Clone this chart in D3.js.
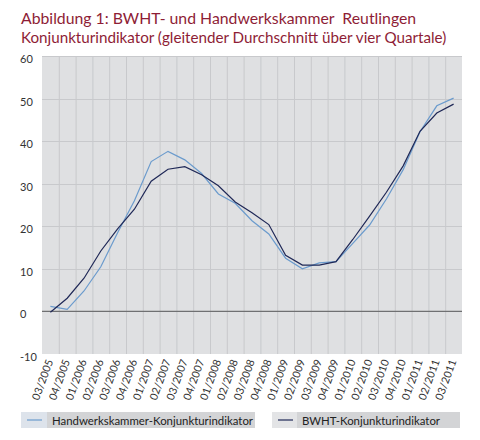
<!DOCTYPE html>
<html>
<head>
<meta charset="utf-8">
<script src="https://cdn.jsdelivr.net/npm/d3@7"></script>
<style>
  body { margin: 0; background: #fff; }
  svg { font-family: Lato, "Open Sans", sans-serif; }
</style>
</head>
<body>
<svg id="chart" width="480" height="440"></svg>
<script>
// Quarters on the x axis
var quarters = ["03/2005", "04/2005",
  "01/2006", "02/2006", "03/2006", "04/2006",
  "01/2007", "02/2007", "03/2007", "04/2007",
  "01/2008", "02/2008", "03/2008", "04/2008",
  "01/2009", "02/2009", "03/2009", "04/2009",
  "01/2010", "02/2010", "03/2010", "04/2010",
  "01/2011", "02/2011", "03/2011"];

// Handwerkskammer-Konjunkturindikator (light line)
var hwkValues = [1.2, 0.5, 4.8, 10.5, 18.5, 26.0, 35.2, 37.6, 35.6, 32.4, 27.6, 25.4,
  21.3, 18.2, 12.5, 10.0, 11.4, 11.7, 16.0, 20.3, 26.4, 33.3, 42.2, 48.3, 50.1];

// BWHT-Konjunkturindikator (dark line)
var bwhtValues = [-0.2, 3.1, 7.8, 14.2, 19.4, 24.0, 30.6, 33.4, 34.0, 32.1, 29.5, 25.7,
  23.2, 20.4, 13.2, 10.9, 10.9, 11.7, 16.9, 22.4, 28.0, 34.2, 42.3, 46.6, 48.7];

var yTicks = [-10, 0, 10, 20, 30, 40, 50, 60];
var seriesNames = ["Handwerkskammer-Konjunkturindikator", "BWHT-Konjunkturindikator"];
var titleLines = ["Abbildung 1: BWHT- und Handwerkskammer\u00a0 Reutlingen",
  "Konjunkturindikator (gleitender Durchschnitt über vier Quartale)"];

var svg = d3.select("#chart");
var plot = { left: 42, right: 462, top: 56, bottom: 354 };

var xScale = d3.scaleBand().domain(quarters).range([plot.left, plot.right]).padding(0);
var yScale = d3.scaleLinear().domain([-10, 60]).range([plot.bottom, plot.top]);

// title
svg.append("g").selectAll("text").data(titleLines).enter()
  .append("text")
  .attr("x", 21)
  .attr("y", (d, i) => 23.5 + i * 19.5)
  .attr("font-size", (d, i) => i == 0 ? 15.8 : 15.2)
  .attr("fill", "#8e1d36")
  .text(d => d);

// plot background
svg.append("rect")
  .attr("x", plot.left).attr("y", plot.top)
  .attr("width", plot.right - plot.left).attr("height", plot.bottom - plot.top)
  .attr("fill", "#dfe0e2");

// vertical grid at band edges
svg.append("g").selectAll("line").data(quarters.slice(1)).enter()
  .append("line")
  .attr("x1", d => xScale(d) + 0.5).attr("x2", d => xScale(d) + 0.5)
  .attr("y1", plot.top).attr("y2", plot.bottom)
  .attr("stroke", "#c8c9cc").attr("stroke-width", 1);

// horizontal grid
svg.append("g").selectAll("line").data(yTicks.filter(d => d != 0 && d != -10)).enter()
  .append("line")
  .attr("x1", plot.left).attr("x2", plot.right)
  .attr("y1", d => Math.round(yScale(d)) + 0.5).attr("y2", d => Math.round(yScale(d)) + 0.5)
  .attr("stroke", "#c8c9cc").attr("stroke-width", 1);

// zero line
svg.append("line")
  .attr("x1", plot.left).attr("x2", plot.right)
  .attr("y1", yScale(0)).attr("y2", yScale(0))
  .attr("stroke", "#6f7072").attr("stroke-width", 1.2);

// y labels
svg.append("g").selectAll("text").data(yTicks).enter()
  .append("text")
  .attr("x", 20)
  .attr("y", d => yScale(d) + 7)
  .attr("font-size", 11)
  .attr("fill", "#333")
  .text(d => d);

// x labels
svg.append("g").selectAll("text").data(quarters).enter()
  .append("text")
  .attr("transform", d => "translate(" + (xScale(d) + xScale.bandwidth() / 2 + 3) + ",361) rotate(-70)")
  .attr("text-anchor", "end")
  .attr("font-size", 10.8)
  .attr("fill", "#333")
  .text(d => d);

// lines
var line = d3.line()
  .x((d, i) => xScale(quarters[i]) + xScale.bandwidth() / 2)
  .y(d => yScale(d));

svg.append("path").datum(hwkValues)
  .attr("d", line).attr("fill", "none")
  .attr("stroke", "#6b9bcd").attr("stroke-width", 1.2);

svg.append("path").datum(bwhtValues)
  .attr("d", line).attr("fill", "none")
  .attr("stroke", "#1f2857").attr("stroke-width", 1.2);

// legend
var legendItems = [
  { name: seriesNames[0], x: 21, w: 234, sw: 26, swatchBg: "#dde3eb", bg: "#d3d4d6", color: "#6b9bcd" },
  { name: seriesNames[1], x: 272, w: 188, sw: 25, swatchBg: "#e3e4e6", bg: "#d3d4d6", color: "#1f2857" }
];
var lg = svg.append("g").selectAll("g").data(legendItems).enter().append("g")
  .attr("transform", d => "translate(" + d.x + ",412)");
lg.append("rect").attr("width", d => d.w).attr("height", 16).attr("fill", d => d.bg);
lg.append("rect").attr("width", d => d.sw).attr("height", 16).attr("fill", d => d.swatchBg);
lg.append("line")
  .attr("x1", 6).attr("x2", 21).attr("y1", 8).attr("y2", 8)
  .attr("stroke", d => d.color).attr("stroke-width", 1.2);
lg.append("text")
  .attr("x", d => d.sw + 5).attr("y", 12.5)
  .attr("font-size", 11.4)
  .attr("fill", "#222")
  .text(d => d.name);
</script>
</body>
</html>
